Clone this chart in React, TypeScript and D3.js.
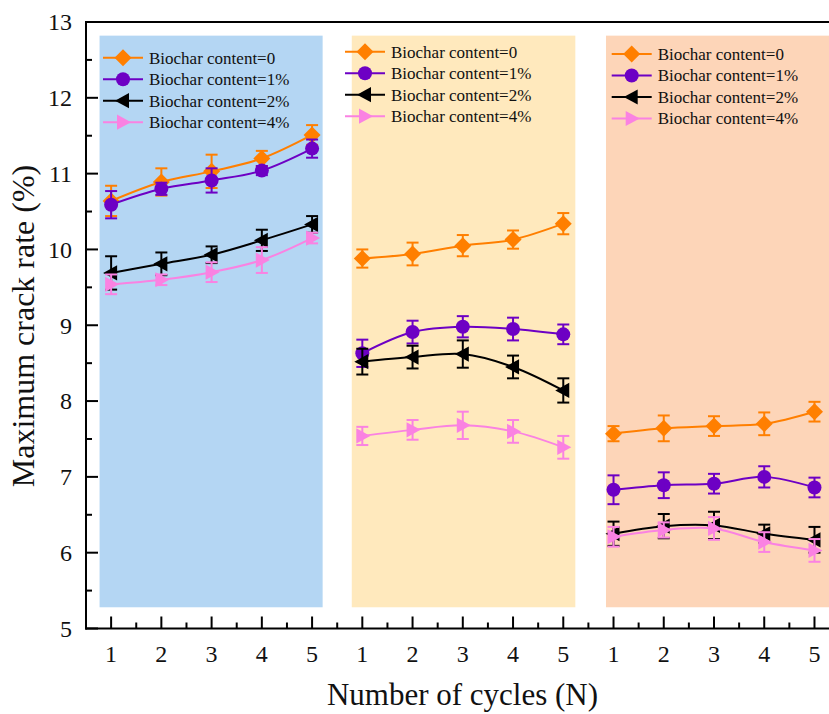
import React from "react";
import * as d3 from "d3";

// Cycle positions: three groups of five cycles laid out along one continuous x axis
const cycleTicks = [1, 2, 3, 4, 5];
const groupCount = 3;
const seriesLabels = [
  "Biochar content=0",
  "Biochar content=1%",
  "Biochar content=2%",
  "Biochar content=4%",
];

// Mean maximum crack rate (%) for each group (5 cycles per group)
const content0 = [10.64, 10.89, 11.03, 11.2, 11.51, 9.88, 9.94, 10.05, 10.13, 10.34, 7.57, 7.64, 7.67, 7.7, 7.86];
const content1 = [10.59, 10.8, 10.91, 11.04, 11.33, 8.63, 8.91, 8.98, 8.95, 8.88, 6.83, 6.89, 6.91, 7.0, 6.86];
const content2 = [9.69, 9.81, 9.93, 10.12, 10.33, 8.52, 8.58, 8.62, 8.45, 8.14, 6.25, 6.35, 6.36, 6.25, 6.17];
const content4 = [9.54, 9.6, 9.7, 9.86, 10.15, 7.54, 7.62, 7.68, 7.6, 7.39, 6.21, 6.3, 6.32, 6.14, 6.03];

// Error bar half-widths (%)
const error0 = [0.2, 0.18, 0.22, 0.1, 0.13, 0.12, 0.15, 0.14, 0.12, 0.14, 0.1, 0.17, 0.13, 0.15, 0.13];
const error1 = [0.18, 0.08, 0.16, 0.06, 0.12, 0.18, 0.15, 0.14, 0.15, 0.13, 0.19, 0.17, 0.13, 0.14, 0.13];
const error2 = [0.22, 0.15, 0.11, 0.14, 0.11, 0.17, 0.15, 0.18, 0.15, 0.16, 0.16, 0.16, 0.18, 0.12, 0.17];
const error4 = [0.13, 0.07, 0.13, 0.17, 0.07, 0.12, 0.13, 0.18, 0.15, 0.15, 0.13, 0.1, 0.15, 0.13, 0.15];

// Y axis ticks
const yMajorTicks = [5, 6, 7, 8, 9, 10, 11, 12, 13];

// Shaded group backgrounds in data units [x0, x1]
const panelSpans: [number, number][] = [
  [0.77, 5.21],
  [5.79, 10.24],
  [10.85, 15.5],
];
const panelYSpan: [number, number] = [5.28, 12.82];
const panelColors = ["#b4d6f3", "#ffe9bd", "#fdd5b8"];

const seriesColors = ["#ff7f00", "#6d00c4", "#000000", "#fa82e2"];
const seriesMarkers = ["diamond", "circle", "triangleLeft", "triangleRight"];

const W = 829;
const H = 714;
const FONT = "'Liberation Serif', 'Times New Roman', serif";

const x = d3.scaleLinear().domain([0.5, 15.5]).range([86, 839.6]);
const y = d3.scaleLinear().domain([5, 13]).range([628.5, 22]);

function markerPath(kind: string, s: number): string {
  switch (kind) {
    case "diamond":
      return `M0,${-s}L${s},0L0,${s}L${-s},0Z`;
    case "triangleLeft":
      return `M${-s},0L${s * 0.75},${-s * 0.95}L${s * 0.75},${s * 0.95}Z`;
    case "triangleRight":
      return `M${s},0L${-s * 0.75},${-s * 0.95}L${-s * 0.75},${s * 0.95}Z`;
    default:
      return "";
  }
}

function Marker({ kind, color, cx, cy }: { kind: string; color: string; cx: number; cy: number }) {
  if (kind === "circle") return <circle cx={cx} cy={cy} r={7} fill={color} />;
  const s = kind === "diamond" ? 8.5 : 8;
  return <path d={markerPath(kind, s)} transform={`translate(${cx},${cy})`} fill={color} />;
}

export default function App() {
  const means = [content0, content1, content2, content4];
  const errors = [error0, error1, error2, error4];
  const xs = d3.range(1, groupCount * cycleTicks.length + 1);

  const line = d3
    .line<[number, number]>()
    .x((d) => x(d[0]))
    .y((d) => y(d[1]))
    .curve(d3.curveCatmullRom.alpha(0.5));

  const yMinor = d3.range(5.5, 13, 1);
  const xMinor = d3.range(1.5, 15.5, 1);

  // Legend anchors per group: [line start x, first row y]
  const legendAnchors: [number, number][] = [
    [103, 57.7],
    [345, 51.7],
    [611.7, 54],
  ];
  const legendRow = 21.5;

  return (
    <svg
      width={W}
      height={H}
      style={{ position: "absolute", left: 0, top: 0, background: "#fff" }}
      fontFamily={FONT}
    >
      {/* group backgrounds */}
      {panelSpans.map((p, i) => (
        <rect
          key={i}
          x={x(p[0])}
          y={y(panelYSpan[1])}
          width={x(p[1]) - x(p[0])}
          height={y(panelYSpan[0]) - y(panelYSpan[1])}
          fill={panelColors[i]}
        />
      ))}

      {/* series */}
      {means.map((vals, si) => {
        const color = seriesColors[si];
        return (
          <g key={si}>
            {d3.range(groupCount).map((g) => {
              const pts: [number, number][] = cycleTicks.map((c, k) => [g * 5 + c, vals[g * 5 + k]]);
              return <path key={g} d={line(pts) || ""} fill="none" stroke={color} strokeWidth={2} />;
            })}
            {xs.map((xv, k) => (
              <Marker key={k} kind={seriesMarkers[si]} color={color} cx={x(xv)} cy={y(vals[k])} />
            ))}
            {xs.map((xv, k) => {
              const cx = x(xv);
              const top = y(vals[k] + errors[si][k]);
              const bot = y(vals[k] - errors[si][k]);
              return (
                <g key={`e${k}`} stroke={color} strokeWidth={2}>
                  <line x1={cx} x2={cx} y1={top} y2={bot} />
                  <line x1={cx - 6} x2={cx + 6} y1={top} y2={top} />
                  <line x1={cx - 6} x2={cx + 6} y1={bot} y2={bot} />
                </g>
              );
            })}
          </g>
        );
      })}

      {/* legends */}
      {legendAnchors.map(([lx, ly], gi) => (
        <g key={gi}>
          {seriesLabels.map((lab, si) => {
            const ry = ly + si * legendRow;
            return (
              <g key={si}>
                <line x1={lx} x2={lx + 40} y1={ry} y2={ry} stroke={seriesColors[si]} strokeWidth={2} />
                <Marker kind={seriesMarkers[si]} color={seriesColors[si]} cx={lx + 20} cy={ry} />
                <text x={lx + 46} y={ry} dy="0.35em" fontSize={17} fill="#111">
                  {lab}
                </text>
              </g>
            );
          })}
        </g>
      ))}

      {/* axes frame */}
      <line x1={x(0.5)} x2={W} y1={y(13)} y2={y(13)} stroke="#000" strokeWidth={2} />
      <line x1={x(0.5)} x2={x(0.5)} y1={y(13) - 1} y2={y(5) + 1} stroke="#000" strokeWidth={2} />
      <line x1={x(0.5) - 1} x2={W} y1={y(5)} y2={y(5)} stroke="#000" strokeWidth={2} />

      {/* y ticks */}
      {yMajorTicks.map((t) => (
        <g key={t}>
          <line x1={x(0.5)} x2={x(0.5) + 12} y1={y(t)} y2={y(t)} stroke="#000" strokeWidth={2} />
          <text x={72} y={y(t)} dy="0.35em" textAnchor="end" fontSize={24} fill="#111">
            {t}
          </text>
        </g>
      ))}
      {yMinor.map((t) => (
        <line key={t} x1={x(0.5)} x2={x(0.5) + 6} y1={y(t)} y2={y(t)} stroke="#000" strokeWidth={2} />
      ))}

      {/* x ticks */}
      {xs.map((xv, k) => (
        <g key={xv}>
          <line x1={x(xv)} x2={x(xv)} y1={y(5)} y2={y(5) - 12} stroke="#000" strokeWidth={2} />
          <text x={x(xv)} y={662} textAnchor="middle" fontSize={24} fill="#111">
            {cycleTicks[k % 5]}
          </text>
        </g>
      ))}
      {xMinor.map((t) => (
        <line key={t} x1={x(t)} x2={x(t)} y1={y(5)} y2={y(5) - 6} stroke="#000" strokeWidth={2} />
      ))}

      {/* axis titles */}
      <text x={462.5} y={705} textAnchor="middle" fontSize={31} fill="#111">
        Number of cycles (N)
      </text>
      <text
        transform={`translate(34, 326) rotate(-90)`}
        textAnchor="middle"
        fontSize={32}
        fill="#111"
      >
        Maximum crack rate (%)
      </text>
    </svg>
  );
}
